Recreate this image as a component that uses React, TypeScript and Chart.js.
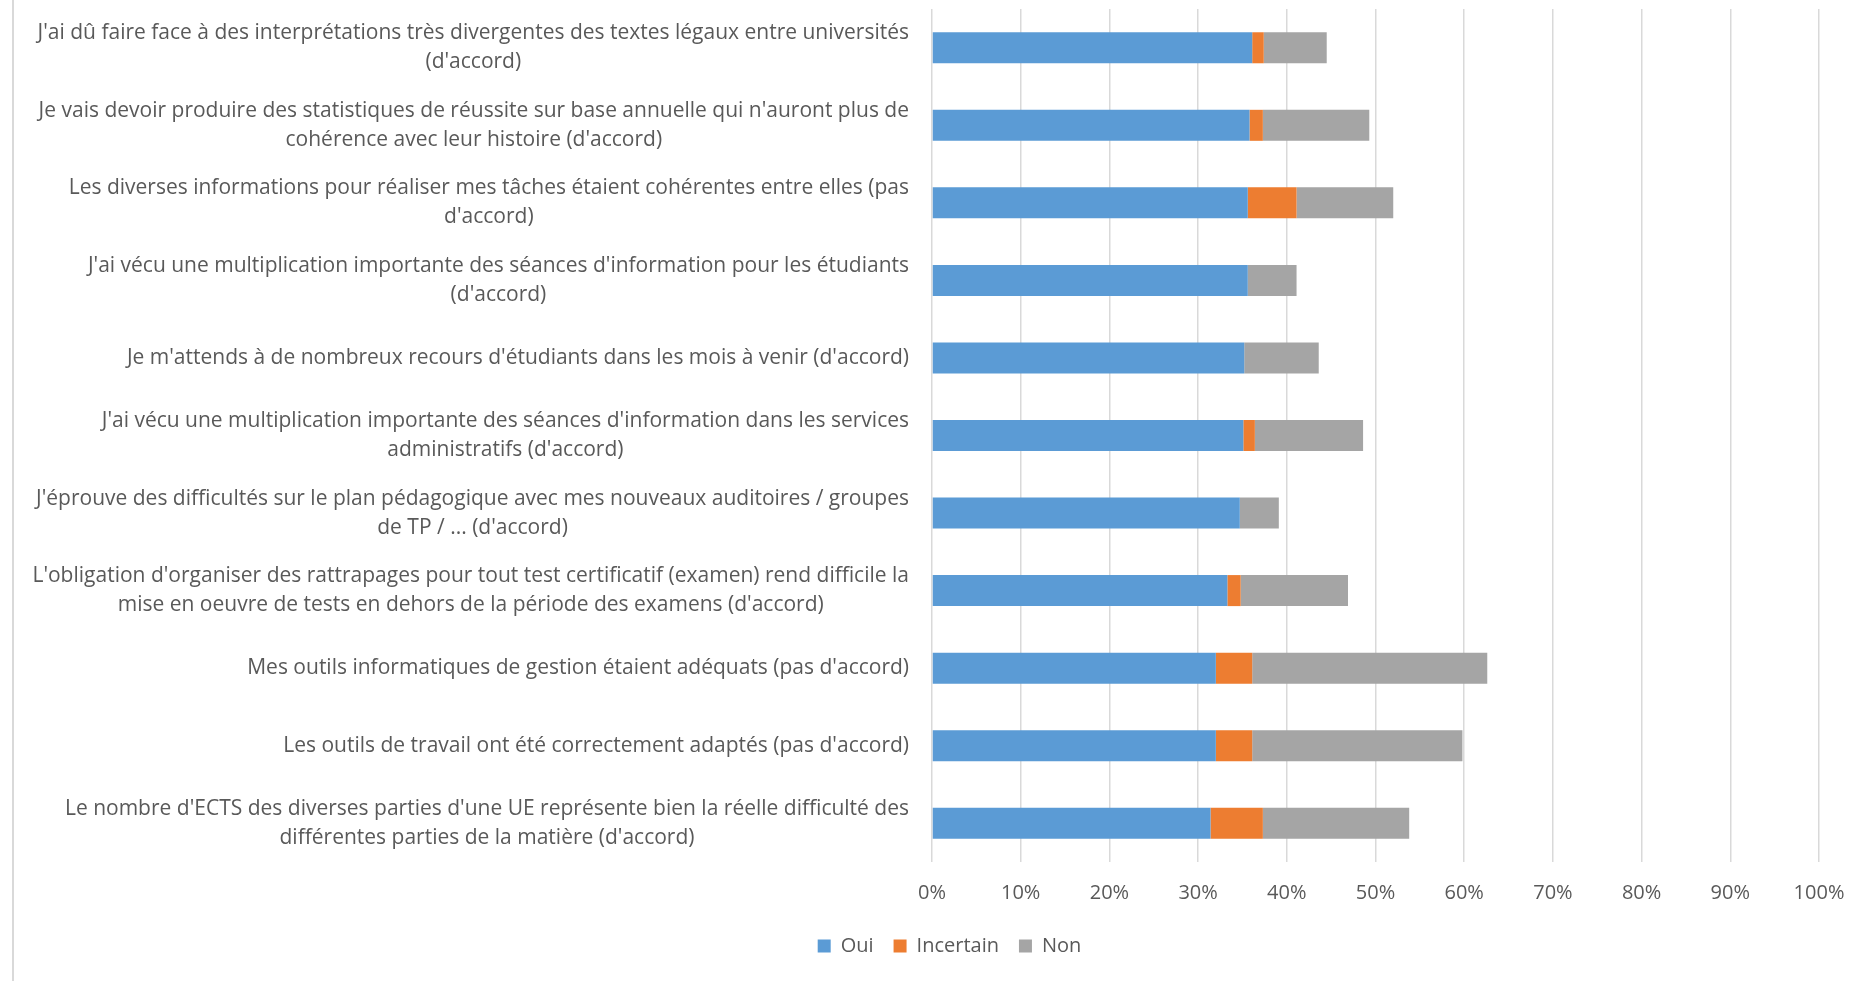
import React, { useEffect, useRef } from "react";
import { Chart, registerables } from "chart.js";

Chart.register(...registerables);

const categories: string[][] = [
  ["J'ai dû faire face à des interprétations très divergentes des textes légaux entre universités", "(d'accord)"],
  ["Je vais devoir produire des statistiques de réussite sur base annuelle qui n'auront plus de", "cohérence avec leur histoire (d'accord)"],
  ["Les diverses informations pour réaliser mes tâches étaient cohérentes entre elles (pas", "d'accord)"],
  ["J'ai vécu une multiplication importante des séances d'information pour les étudiants", "(d'accord)"],
  ["Je m'attends à de nombreux recours d'étudiants dans les mois à venir (d'accord)"],
  ["J'ai vécu une multiplication importante des séances d'information dans les services", "administratifs (d'accord)"],
  ["J'éprouve des difficultés sur le plan pédagogique avec mes nouveaux auditoires / groupes", "de TP / ... (d'accord)"],
  ["L'obligation d'organiser des rattrapages pour tout test certificatif (examen) rend difficile la", "mise en oeuvre de tests en dehors de la période des examens (d'accord)"],
  ["Mes outils informatiques de gestion étaient adéquats (pas d'accord)"],
  ["Les outils de travail ont été correctement adaptés (pas d'accord)"],
  ["Le nombre d'ECTS des diverses parties d'une UE représente bien la réelle difficulté des", "différentes parties de la matière (d'accord)"],
];

const seriesNames = ["Oui", "Incertain", "Non"];
const oui = [36.1, 35.8, 35.6, 35.6, 35.2, 35.1, 34.7, 33.3, 32.0, 32.0, 31.4];
const incertain = [1.3, 1.5, 5.5, 0, 0, 1.3, 0, 1.5, 4.1, 4.1, 5.9];
const non = [7.1, 12.0, 10.9, 5.5, 8.4, 12.2, 4.4, 12.1, 26.5, 23.7, 16.5];
const xTicks = [0, 10, 20, 30, 40, 50, 60, 70, 80, 90, 100];

const FONT = '"Open Sans", "Liberation Sans", sans-serif';
const TEXT = "#595959";

const labelPlugin = {
  id: "multiLineLabels",
  afterLayout(chart: any) {
    const lg = chart.legend;
    if (lg) {
      lg.left += 40;
      lg.right += 40;
    }
  },
  beforeDraw(chart: any) {
    const ctx = chart.ctx;
    ctx.save();
    ctx.strokeStyle = "#d9d9d9";
    ctx.lineWidth = 2;
    ctx.beginPath();
    ctx.moveTo(13, 0);
    ctx.lineTo(13, chart.height);
    ctx.stroke();
    ctx.restore();
  },
  afterDraw(chart: any) {
    const ctx = chart.ctx;
    const yScale = chart.scales.y;
    ctx.save();
    ctx.font = `21px ${FONT}`;
    ctx.fillStyle = TEXT;
    ctx.textAlign = "center";
    ctx.textBaseline = "middle";
    const right = chart.chartArea.left - 23;
    const lh = 29;
    categories.forEach((lines, i) => {
      const yc = yScale.getPixelForValue(i);
      const w = Math.max(...lines.map((l) => ctx.measureText(l).width));
      const cx = right - w / 2;
      lines.forEach((l, j) => {
        ctx.fillText(l, cx, yc + (j - (lines.length - 1) / 2) * lh);
      });
    });
    ctx.restore();
  },
};

export default function App() {
  const ref = useRef<HTMLCanvasElement | null>(null);
  useEffect(() => {
    if (!ref.current) return;
    const chart = new Chart(ref.current, {
      type: "bar",
      data: {
        labels: categories.map((c) => c.join(" ")),
        datasets: [
          { label: seriesNames[0], data: oui, backgroundColor: "#5B9BD5" },
          { label: seriesNames[1], data: incertain, backgroundColor: "#ED7D31" },
          { label: seriesNames[2], data: non, backgroundColor: "#A5A5A5" },
        ],
      },
      options: {
        indexAxis: "y",
        responsive: false,
        animation: false,
        events: [],
        layout: { padding: { top: 9, right: 50, bottom: 15, left: 0 } },
        datasets: { bar: { barPercentage: 0.5, categoryPercentage: 0.8 } } as any,
        scales: {
          x: {
            stacked: true,
            min: 0,
            max: 100,
            afterBuildTicks: (scale: any) => {
              scale.ticks = xTicks.map((v) => ({ value: v }));
            },
            afterFit: (scale: any) => {
              scale.height = 54;
            },
            grid: { color: "#d9d9d9", lineWidth: 1.5, drawTicks: false },
            border: { display: false },
            ticks: {
              padding: 19,
              color: TEXT,
              font: { family: FONT, size: 20 },
              callback: (v: any) => `${v}%`,
              maxRotation: 0,
            },
          },
          y: {
            stacked: true,
            afterFit: (scale: any) => {
              scale.width = 932;
            },
            grid: { display: false },
            border: { display: false },
            ticks: { display: false },
          },
        },
        plugins: {
          legend: {
            position: "bottom",
            labels: {
              boxWidth: 13,
              boxHeight: 13,
              padding: 20,
              color: TEXT,
              font: { family: FONT, size: 20 },
            },
          },
          tooltip: { enabled: false },
        },
      },
      plugins: [labelPlugin],
    });
    return () => chart.destroy();
  }, []);
  return (
    <div style={{ position: "absolute", left: 0, top: 0, width: 1869, height: 981, background: "#fff" }}>
      <canvas ref={ref} width={1869} height={981} style={{ display: "block" }} />
    </div>
  );
}
